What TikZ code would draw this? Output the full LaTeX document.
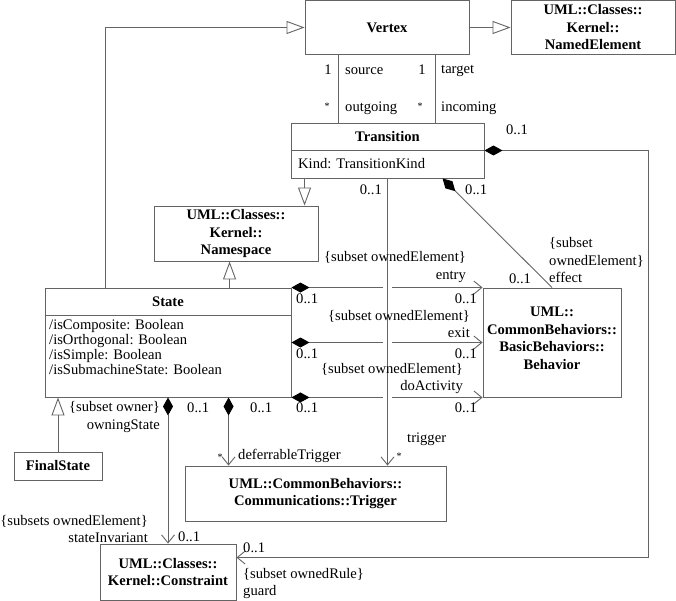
\documentclass[tikz,border=0pt]{standalone}
\usepackage{fontspec}
\setmainfont{Liberation Serif}
\usetikzlibrary{arrows.meta}
\definecolor{ln}{RGB}{100,100,100}
\begin{document}
\begin{tikzpicture}[x=1pt,y=-1pt,
  font=\fontsize{14.6}{17.5}\selectfont,
  box/.style={draw=ln, line width=0.9pt, inner sep=0pt, align=center, font=\fontsize{14.6}{17.5}\selectfont\bfseries},
  btext/.style={inner sep=0pt, align=center, font=\fontsize{14.6}{17.5}\selectfont\bfseries},
  lbl/.style={inner sep=0pt},
  star/.style={inner sep=0pt, font=\fontsize{10}{10}\selectfont},
  conn/.style={draw=ln, line width=0.9pt},
  gen/.style={conn, -{Triangle[open, length=18pt, width=13pt]}},
  nav/.style={conn, -{Straight Barb[length=8pt, width=13pt]}},
  comp/.style={conn, {Diamond[length=18pt, width=10pt, fill=black, color=black]}-{Straight Barb[length=8pt, width=13pt]}},
  dia/.style={conn, {Diamond[length=18pt, width=10pt, fill=black, color=black]}-},
  ]
\useasboundingbox (0,0) rectangle (676,601);

% boxes
\node[box, minimum width=164pt, minimum height=54pt] (vertex) at (387,27.5) {Vertex};
\node[box, minimum width=164pt, minimum height=54pt] (named) at (593,27.5) {UML::Classes::\\Kernel::\\NamedElement};
\node[box, minimum width=193pt, minimum height=55pt] (transition) at (387.5,150.5) {};
\draw[conn] ([yshift=-28pt]transition.north west) -- ([yshift=-28pt]transition.north east);
\node[btext] (transtitle) at (387.5,137) {Transition};
\node[lbl, anchor=west] (transattr) at (298,164) {Kind: TransitionKind};

\node[box, minimum width=164pt, minimum height=55pt] (namespace) at (236,233.5) {UML::Classes::\\Kernel::\\Namespace};

\node[box, minimum width=246pt, minimum height=109pt] (state) at (168,342.5) {};
\draw[conn] ([yshift=-28pt]state.north west) -- ([yshift=-28pt]state.north east);
\node[btext] (statetitle) at (168,302) {State};
\node[lbl, anchor=north west, align=left, font=\fontsize{14.6}{15}\selectfont] (stateattr) at (49,319)
  {/isComposite: Boolean\\/isOrthogonal: Boolean\\/isSimple: Boolean\\/isSubmachineState: Boolean};

\node[box, minimum width=138pt, minimum height=109pt] (behavior) at (552,342.5) {};
\node[btext] (behtext) at (552,338.5) {UML::\\CommonBehaviors::\\BasicBehaviors::\\Behavior};

\node[box, minimum width=261pt, minimum height=55pt] (trigger) at (315.5,493.5) {UML::CommonBehaviors::\\Communications::Trigger};
\node[box, minimum width=88pt, minimum height=28pt] (final) at (58,466) {FinalState};
\node[box, minimum width=136pt, minimum height=56pt] (constraint) at (168,572) {UML::Classes::\\Kernel::Constraint};

% generalizations
\draw[gen] (vertex.east) -- (named.west);
\draw[gen] ([xshift=61pt]state.north west) |- (vertex.west);
\draw[gen] ([xshift=14pt]transition.south west) -- ([xshift=14pt]transition.south west |- namespace.north);
\draw[gen] ([xshift=185pt]state.north west) -- ([xshift=185pt]state.north west |- namespace.south);
\draw[gen] (final.north) -- (final.north |- state.south);

% vertex - transition
\draw[conn] ([xshift=48pt]transition.north west) -- ([xshift=48pt]transition.north west |- vertex.south);
\draw[conn] ([xshift=145pt]transition.north west) -- ([xshift=145pt]transition.north west |- vertex.south);

% state - behavior
\draw[comp] (state.north east) -- (behavior.north west);
\draw[comp] (state.east) -- (behavior.west);
\draw[comp] (state.south east) -- (behavior.south west);

% trigger line with gaps in crossing lines
\draw[white, line width=9pt] ([yshift=-10pt]transition.south) -- ([yshift=14pt]transition.south |- trigger.north);
\draw[nav] (transition.south) -- (transition.south |- trigger.north);

% effect
\draw[dia] ([xshift=152pt]transition.south west) -- (behavior.north);
% guard
\draw[comp] (transition.east) -- ++(164,0) |- ([yshift=-14pt]constraint.north east);
% state invariant
\draw[comp] (constraint.north |- state.south) -- (constraint.north);
% deferrable trigger
\draw[comp] ([xshift=184pt]state.south west) -- ([xshift=184pt]state.south west |- trigger.north);

% labels
\node[lbl] (m1) at (328,70) {1};
\node[lbl, anchor=west] (r1) at (345,71) {source};
\node[star] (m2) at (327,106) {*};
\node[lbl, anchor=west] (r2) at (345,108) {outgoing};
\node[lbl] (m3) at (422,70) {1};
\node[lbl, anchor=west] (r3) at (441,71) {target};
\node[star] (m4) at (420,106) {*};
\node[lbl, anchor=west] (r4) at (441,108) {incoming};
\node[lbl] (m5) at (517,130) {0..1};
\node[lbl, anchor=east] (m6) at (382,190) {0..1};
\node[lbl, anchor=west] (m7) at (465,190) {0..1};
\node[lbl, anchor=west, align=left] (r5) at (549,260.5) {\{subset\\ownedElement\}\\effect};
\node[lbl] (m8) at (520,279) {0..1};
\node[lbl, anchor=east, align=right] (r6) at (466,267) {\{subset ownedElement\}\\entry};
\node[lbl, anchor=west] (m9) at (296,299) {0..1};
\node[lbl, anchor=east] (m10) at (477,299) {0..1};
\node[lbl, anchor=east, align=right] (r7) at (470,324) {\{subset ownedElement\}\\exit};
\node[lbl, anchor=west] (m11) at (296,354) {0..1};
\node[lbl, anchor=east] (m12) at (477,354) {0..1};
\node[lbl, anchor=east, align=right] (r8) at (463,378.5) {\{subset ownedElement\}\\doActivity};
\node[lbl, anchor=west] (m13) at (296,408) {0..1};
\node[lbl, anchor=east] (m14) at (477,408) {0..1};
\node[lbl, anchor=east, align=right] (r9) at (160,417) {\{subset owner\}\\owningState};
\node[lbl, anchor=west] (m15) at (187,408) {0..1};
\node[lbl, anchor=west] (m16) at (250,408) {0..1};
\node[star] (m17) at (220,457) {*};
\node[lbl, anchor=west] (r10) at (238,456) {deferrableTrigger};
\node[lbl, anchor=west] (r11) at (407,439) {trigger};
\node[star] (m18) at (399,456) {*};
\node[lbl, anchor=east, align=right] (r12) at (148,529) {\{subsets ownedElement\}\\stateInvariant};
\node[lbl, anchor=west] (m19) at (178,537) {0..1};
\node[lbl, anchor=west] (m20) at (243,548) {0..1};
\node[lbl, anchor=west, align=left] (r13) at (243,583.5) {\{subset ownedRule\}\\guard};
\end{tikzpicture}
\end{document}
